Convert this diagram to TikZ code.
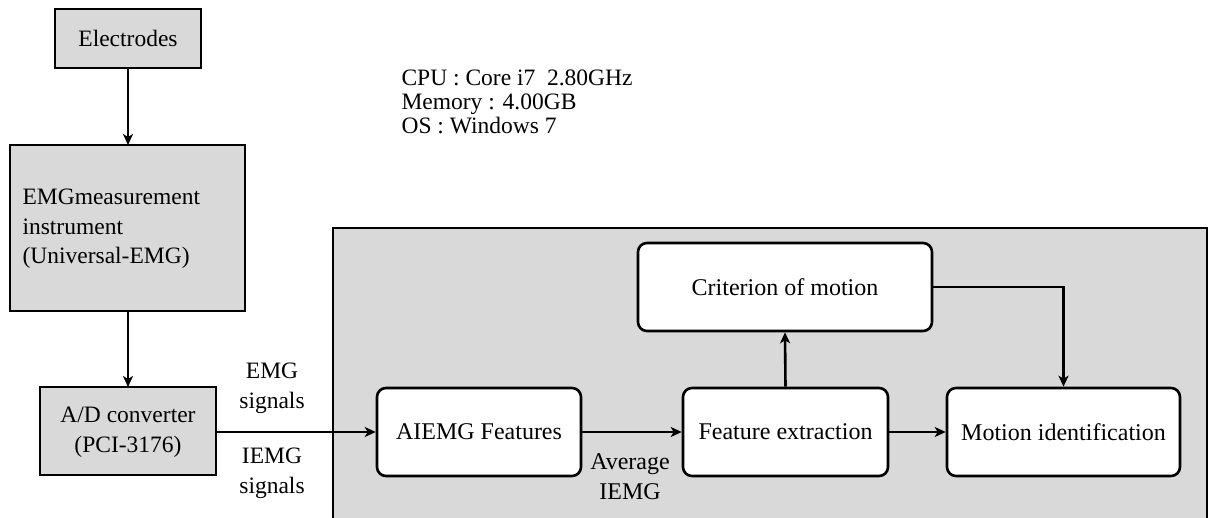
\documentclass[tikz,border=0pt]{standalone}
\usepackage{fontspec}
\setmainfont{Liberation Serif}
\usetikzlibrary{arrows.meta}
\definecolor{boxgray}{RGB}{217,217,217}
\tikzset{
  x=1pt, y=-1pt,
  arr/.style={line width=2.6pt, -{Stealth[length=11pt,width=10pt,inset=3pt]}},
  grayblock/.style={draw, line width=2.6pt, fill=boxgray},
  roundblock/.style={draw, line width=2.6pt, fill=white, rounded corners=9pt},
  lefttxt/.style={font=\fontsize{23.5}{29.5}\selectfont, align=center},
  righttxt/.style={font=\fontsize{24}{30}\selectfont, align=center},
}
\begin{document}
\begin{tikzpicture}
\useasboundingbox (0,0) rectangle (1215,518);
% big gray panel
\draw[grayblock] (333,228) rectangle (1207,530);
% left column
\draw[grayblock] (55,9) rectangle (201,68);
\node[lefttxt] (el) at (128,38.5) {Electrodes};
\coordinate (elb) at (128,68);
\draw[grayblock] (10,145) rectangle (245,311);
\node[lefttxt, align=left, anchor=west] (emg) at (19,229) {EMGmeasurement\\instrument\\(Universal-EMG)};
\coordinate (emgt) at (128,145);
\coordinate (emgb) at (128,311);
\draw[grayblock] (40,387) rectangle (216,475);
\node[lefttxt] (ad) at (128,432) {A/D converter\\(PCI-3176)};
\coordinate (adt) at (128,387);
\coordinate (adr) at (216,432);
\draw[arr] (elb) -- (emgt);
\draw[arr] (emgb) -- (adt);
% labels
\node[lefttxt, font=\fontsize{23.5}{30}\selectfont] (lab1) at (272,388) {EMG\\signals};
\node[lefttxt, font=\fontsize{23.5}{30}\selectfont] (lab2) at (272,473) {IEMG\\signals};
\node[font=\fontsize{23.5}{24}\selectfont, align=left, anchor=north west] (spec) at (398,66) {CPU : Core i7\enspace2.80GHz\\Memory : 4.00GB\\OS : Windows 7};
% inner blocks
\node[roundblock, minimum width=204pt, minimum height=88pt, righttxt] (ai) at (479,432) {AIEMG Features};
\node[roundblock, minimum width=205pt, minimum height=88pt, righttxt] (fe) at (785.5,432) {Feature extraction};
\node[roundblock, minimum width=233pt, minimum height=88pt, righttxt] (mi) at (1063.5,432) {Motion identification};
\node[roundblock, minimum width=294pt, minimum height=88pt, righttxt] (cr) at (785,287) {Criterion of motion};
\node[righttxt] (avg) at (630,477) {Average\\IEMG};
\draw[arr] (adr) -- (ai.west);
\draw[arr] (ai.east) -- (fe.west);
\draw[arr] (fe.east) -- (mi.west);
\draw[arr] (fe.north) -- (cr.south);
\draw[arr] (cr.east) -| (mi.north);
\end{tikzpicture}
\end{document}
